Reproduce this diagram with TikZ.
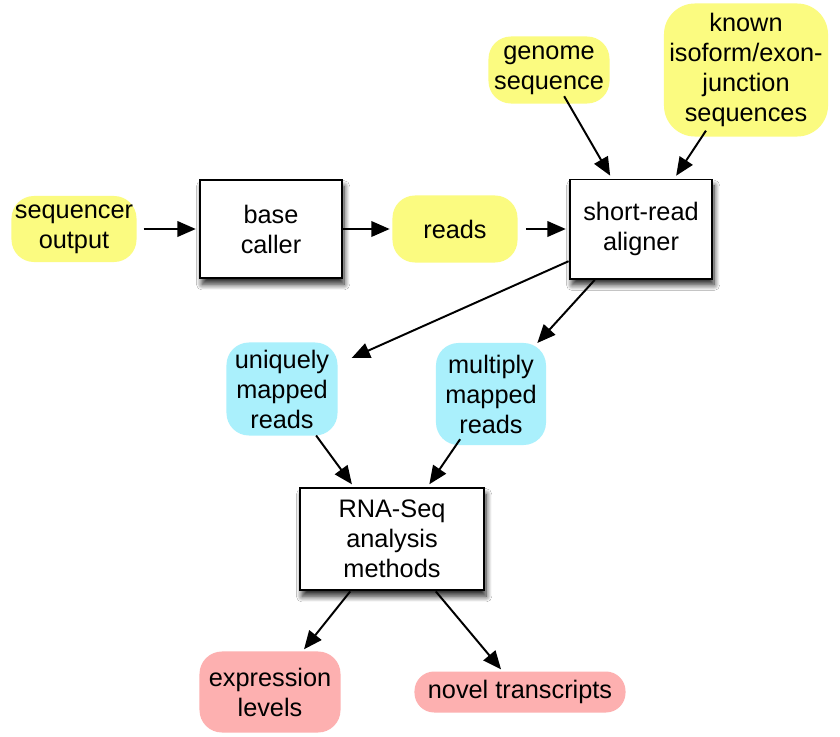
\documentclass[tikz,border=0pt]{standalone}
\usepackage{fontspec}
\setmainfont{Liberation Sans}
\usetikzlibrary{arrows.meta,shadows.blur}
\definecolor{yel}{HTML}{FBFB80}
\definecolor{cya}{HTML}{AAF0FC}
\definecolor{pnk}{HTML}{FDB0B0}
\tikzset{
  every node/.style={font=\fontsize{18}{21.3}\selectfont, align=center, inner sep=0pt},
  blob/.style={rounded corners=16pt, outer sep=0pt},
  yblob/.style={blob, fill=yel},
  cblob/.style={blob, fill=cya},
  pblob/.style={blob, fill=pnk},
  procbox/.style={draw=black, line width=1.4pt, fill=white, outer sep=1pt,
    blur shadow={shadow xshift=1.5pt, shadow yshift=-4.5pt, shadow blur radius=4pt, shadow blur steps=10, shadow opacity=85}},
  arr/.style={line width=1.4pt, -{Triangle[length=13pt,width=11pt]}, shorten >=2pt}
}
\begin{document}
\begin{tikzpicture}[x=0.025cm,y=-0.025cm]
\useasboundingbox[fill=white] (0,0) rectangle (840,736);
\node[yblob, minimum width=3.125cm, minimum height=1.65cm] (seq) at (74,229) {sequencer\\output};
\node[procbox, minimum width=3.55cm, minimum height=2.45cm] (base) at (271,229) {base\\caller};
\node[yblob, minimum width=3.125cm, minimum height=1.675cm] (reads) at (455,229) {reads};
\node[procbox, minimum width=3.55cm, minimum height=2.475cm] (align) at (641,229) {short-read\\aligner};
\node[yblob, minimum width=3.025cm, minimum height=1.675cm] (genome) at (549,70) {genome\\sequence};
\node[yblob, minimum width=4.1cm, minimum height=3.325cm, rounded corners=22pt] (known) at (746,70) {known\\isoform/exon-\\junction\\sequences};
\node[cblob, minimum width=2.775cm, minimum height=2.325cm] (uniq) at (282,389) {uniquely\\mapped\\reads};
\node[cblob, minimum width=2.75cm, minimum height=2.55cm] (multi) at (491,394) {multiply\\mapped\\reads};
\node[procbox, minimum width=4.6cm, minimum height=2.55cm] (rna) at (392,539) {RNA-Seq\\analysis\\methods};
\node[pblob, minimum width=3.525cm, minimum height=2.025cm] (expr) at (270,692) {expression\\levels};
\node[pblob, minimum width=5.275cm, minimum height=1.025cm, rounded corners=14pt] (novel) at (520,692) {novel transcripts};

\draw[arr, shorten <=5pt] (seq) -- (base);
\draw[arr] (base) -- (reads);
\draw[arr, shorten <=6pt] (reads) -- (align);
\draw[arr, shorten <=-6pt] (genome) -- (align);
\draw[arr, shorten <=-5pt] (known) -- (align);
\draw[arr, shorten >=11pt] (align) -- (uniq);
\draw[arr, shorten >=0pt] (align) -- (multi);
\draw[arr] (uniq) -- (rna);
\draw[arr, shorten <=-5pt] (multi) -- (rna);
\draw[arr] (rna) -- (expr);
\draw[arr] (rna) -- (novel);
\end{tikzpicture}
\end{document}
